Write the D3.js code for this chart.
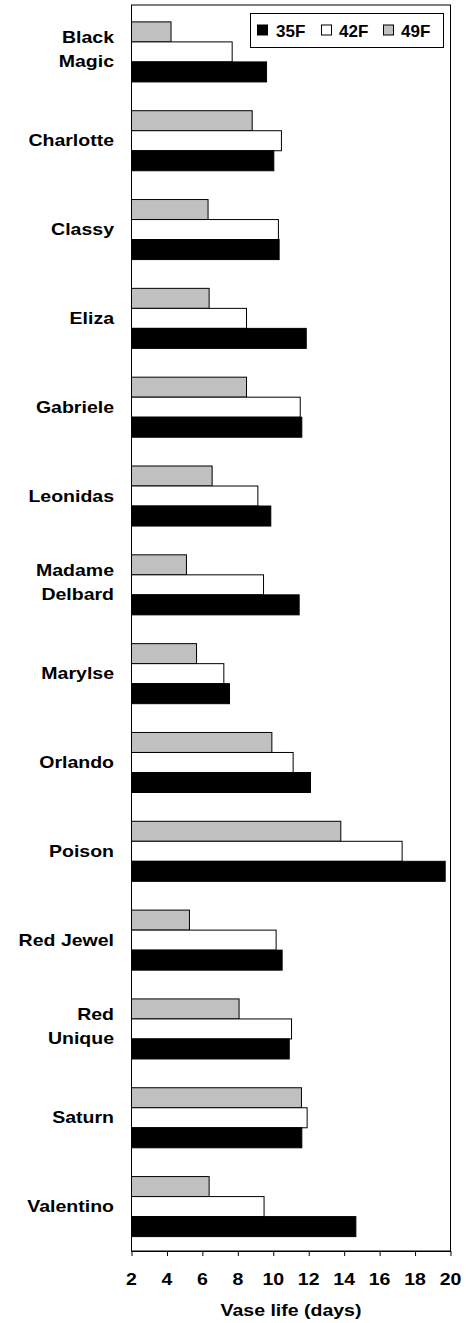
<!DOCTYPE html>
<html>
<head>
<meta charset="utf-8">
<script src="https://cdn.jsdelivr.net/npm/d3@7"></script>
<style>
  html, body { margin: 0; padding: 0; background: #fff; }
  svg text { font-family: "Liberation Sans", Arial, sans-serif; font-weight: bold; fill: #000; }
</style>
</head>
<body>
<svg id="chart" width="473" height="1323"></svg>
<script>
const categories = [
  ["Black", "Magic"], ["Charlotte"], ["Classy"], ["Eliza"], ["Gabriele"], ["Leonidas"],
  ["Madame", "Delbard"], ["Marylse"], ["Orlando"], ["Poison"], ["Red Jewel"],
  ["Red", "Unique"], ["Saturn"], ["Valentino"]
];
const seriesNames = ["35F", "42F", "49F"];
const values35F = [9.62, 10.03, 10.33, 11.86, 11.61, 9.86, 11.46, 7.53, 12.10, 19.70, 10.50, 10.90, 11.61, 14.66];
const values42F = [7.68, 10.46, 10.29, 8.49, 11.52, 9.13, 9.45, 7.21, 11.12, 17.27, 10.16, 11.03, 11.91, 9.48];
const values49F = [4.23, 8.81, 6.32, 6.38, 8.49, 6.55, 5.10, 5.67, 9.92, 13.81, 5.27, 8.07, 11.59, 6.38];
const xTicks = [2, 4, 6, 8, 10, 12, 14, 16, 18, 20];
const xTitle = "Vase life (days)";

const colors = { "35F": "#000000", "42F": "#ffffff", "49F": "#c0c0c0" };
const seriesValues = { "35F": values35F, "42F": values42F, "49F": values49F };
const drawOrder = ["49F", "42F", "35F"]; // top to bottom inside each group

const svg = d3.select("#chart");
const pLeft = 131.5, pRight = 450.5, pTop = 5, pBottom = 1251;
const sx = 1.22;

const x = d3.scaleLinear().domain([2, 20]).range([pLeft, pRight]);
const keys = categories.map(c => c.join(" "));
const y = d3.scaleBand().domain(keys).range([7.5, pBottom]).paddingInner(0.324).paddingOuter(0.162);
const ySub = d3.scaleBand().domain(drawOrder).range([0, y.bandwidth()]);

// frame
svg.append("rect").attr("x", pLeft).attr("y", pTop).attr("width", pRight - pLeft).attr("height", pBottom - pTop)
  .attr("fill", "none").attr("stroke", "#000").attr("stroke-width", 1);

// bars
const groups = svg.append("g").selectAll("g").data(keys).join("g")
  .attr("transform", d => `translate(0,${y(d)})`);
groups.each(function(k, i) {
  d3.select(this).selectAll("rect").data(drawOrder).join("rect")
    .attr("x", x(2))
    .attr("y", s => ySub(s))
    .attr("width", s => x(seriesValues[s][i]) - x(2))
    .attr("height", ySub.bandwidth())
    .attr("fill", s => colors[s])
    .attr("stroke", "#000")
    .attr("stroke-width", 1);
});

// x axis
const xAxis = d3.axisBottom(x).tickValues(xTicks).tickSize(5).tickSizeOuter(0).tickFormat("");
const gx = svg.append("g").attr("transform", `translate(0,${pBottom})`).call(xAxis);
gx.select(".domain").attr("stroke", "#000");
gx.selectAll(".tick line").attr("stroke", "#000");
svg.append("g").selectAll("text").data(xTicks).join("text")
  .attr("transform", d => `translate(${x(d)},1285) scale(${sx},1)`)
  .attr("text-anchor", "middle").attr("font-size", 16).text(d => d);

svg.append("text")
  .attr("transform", `translate(${(pLeft + pRight) / 2},1316) scale(${sx},1)`)
  .attr("text-anchor", "middle").attr("font-size", 16).text(xTitle);

// category labels
categories.forEach((lines, i) => {
  const c = y(keys[i]) + y.bandwidth() / 2;
  const baselines = lines.length === 1 ? [c + 5.5] : [c - 9, c + 15];
  lines.forEach((t, j) => {
    svg.append("text")
      .attr("transform", `translate(114,${baselines[j]}) scale(${sx},1)`)
      .attr("text-anchor", "end").attr("font-size", 16).text(t);
  });
});

// legend
const lg = svg.append("g");
lg.append("rect").attr("x", 250.5).attr("y", 13.5).attr("width", 193).attr("height", 34)
  .attr("fill", "#fff").attr("stroke", "#000").attr("stroke-width", 1);
const legendPos = [
  { s: "35F", bx: 257.5, tx: 276 },
  { s: "42F", bx: 321.5, tx: 339 },
  { s: "49F", bx: 383.5, tx: 401 }
];
legendPos.forEach(p => {
  lg.append("rect").attr("x", p.bx).attr("y", 25).attr("width", 10).attr("height", 10)
    .attr("fill", colors[p.s]).attr("stroke", "#000").attr("stroke-width", 1);
  lg.append("text").attr("x", p.tx).attr("y", 36.5).attr("font-size", 17).text(p.s);
});
</script>
</body>
</html>
